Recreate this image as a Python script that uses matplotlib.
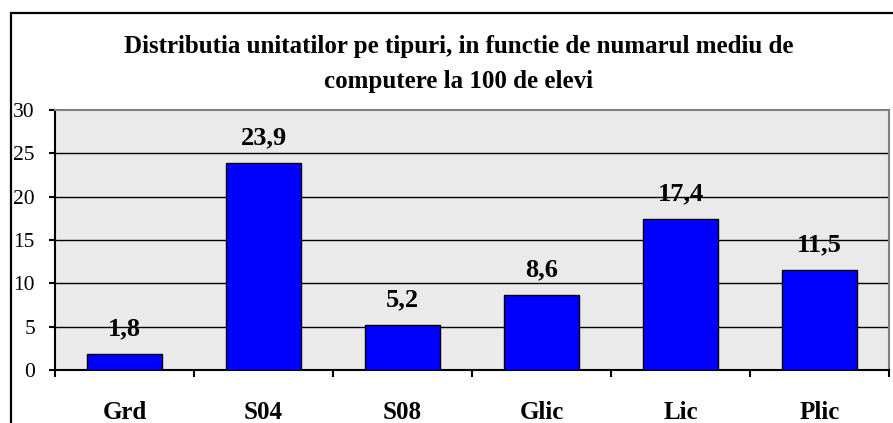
import matplotlib
matplotlib.use("Agg")
import matplotlib.pyplot as plt
from matplotlib.patches import Rectangle

categories = ["Grd", "S04", "S08", "Glic", "Lic", "Plic"]
values = [1.8, 23.9, 5.2, 8.6, 17.4, 11.5]
value_labels = ["1,8", "23,9", "5,2", "8,6", "17,4", "11,5"]
yticks = [0, 5, 10, 15, 20, 25, 30]
title_lines = ["Distributia unitatilor pe tipuri, in functie de numarul mediu de",
               "computere la 100 de elevi"]

W, H = 893, 423
fig = plt.figure(figsize=(W / 100, H / 100), dpi=100)
fig.patch.set_facecolor("white")

serif = ["Liberation Serif", "DejaVu Serif"]

# outer chart border (only left and top visible)
fig.add_artist(Rectangle((10.5 / W, -0.1), 1.2, (H - 13) / H + 0.1,
                         transform=fig.transFigure, fill=False,
                         edgecolor="black", linewidth=1.6, clip_on=False))

left, right, top, bottom = 55, 889, 110, 370
ax = fig.add_axes([left / W, 1 - bottom / H, (right - left) / W, (bottom - top) / H])
ax.set_facecolor("#EAEAEA")

x = list(range(len(categories)))
ax.bar(x, values, width=0.54, color="#0000FF", edgecolor="black", linewidth=1.0, zorder=3)
ax.set_xlim(-0.5, len(categories) - 0.5)
ax.set_ylim(0, 30)

for g in yticks[1:-1]:
    ax.axhline(g, color="black", linewidth=1.0, zorder=1)

for i, (v, lab) in enumerate(zip(values, value_labels)):
    ax.annotate(lab, (i, v), xytext=(0, 13.7), textcoords="offset points",
                ha="center", va="baseline", fontsize=19, fontweight="bold",
                family=serif, zorder=4)

ax.set_yticks(yticks)
ax.set_yticklabels([str(t) for t in yticks], family=serif, fontsize=15.5)
ax.tick_params(axis="y", direction="out", length=4, width=1.5, pad=10.4, color="black")

ax.set_xticks([i - 0.5 for i in range(len(categories) + 1)], minor=False)
ax.set_xticklabels([])
ax.tick_params(axis="x", direction="out", length=5, width=1.5, color="black")
ax.set_xticks(x, minor=True)
ax.set_xticklabels(categories, minor=True, family=serif, fontsize=18, fontweight="bold")
ax.tick_params(axis="x", which="minor", length=0, pad=22.5)

for s in ["top", "right"]:
    ax.spines[s].set_color("#808080")
    ax.spines[s].set_linewidth(1.5)
for s in ["left", "bottom"]:
    ax.spines[s].set_color("black")
    ax.spines[s].set_linewidth(1.5)

fig.text(459 / W, 1 - 53 / H, title_lines[0], ha="center", va="baseline",
         fontsize=18, fontweight="bold", family=serif)
fig.text(459 / W, 1 - 88 / H, title_lines[1], ha="center", va="baseline",
         fontsize=18, fontweight="bold", family=serif)

fig.savefig("out.png", dpi=100)
